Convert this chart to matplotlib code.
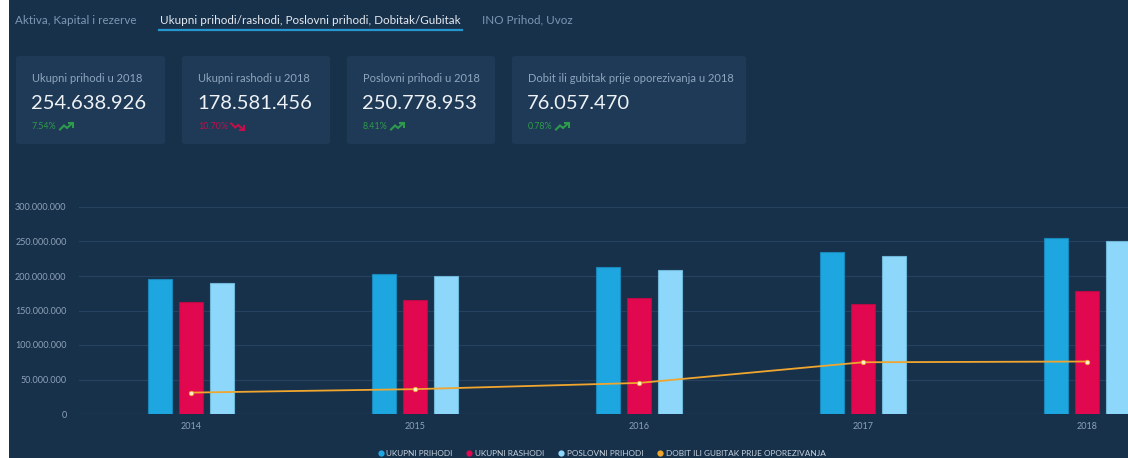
import matplotlib
matplotlib.use("Agg")
import matplotlib.pyplot as plt
import numpy as np
from matplotlib.lines import Line2D
from matplotlib.patches import FancyBboxPatch, Rectangle

# ---- data -------------------------------------------------------------
years = ["2014", "2015", "2016", "2017", "2018"]
ukupni_prihodi = [195_500_000, 203_500_000, 213_500_000, 235_500_000, 254_638_926]
ukupni_rashodi = [162_500_000, 165_500_000, 168_000_000, 160_000_000, 178_581_456]
poslovni_prihodi = [190_500_000, 199_500_000, 209_000_000, 229_500_000, 250_778_953]
dobit_gubitak = [31_000_000, 36_000_000, 45_000_000, 75_000_000, 76_057_470]

series_names = ["UKUPNI PRIHODI", "UKUPNI RASHODI", "POSLOVNI PRIHODI",
                "DOBIT ILI GUBITAK PRIJE OPOREZIVANJA"]

tabs = ["Aktiva, Kapital i rezerve",
        "Ukupni prihodi/rashodi, Poslovni prihodi, Dobitak/Gubitak",
        "INO Prihod, Uvoz"]

card_titles = ["Ukupni prihodi u 2018", "Ukupni rashodi u 2018",
               "Poslovni prihodi u 2018",
               "Dobit ili gubitak prije oporezivanja u 2018"]
card_values = ["254.638.926", "178.581.456", "250.778.953", "76.057.470"]
card_changes = ["7.54%", "10.70%", "8.41%", "0.78%"]
card_up = [True, False, True, True]

# ---- style ------------------------------------------------------------
W, H = 1128, 458
BG = "#18314b"
CARD = "#1f3a56"
C_BLUE = "#1ea6e0"
C_RED = "#e2084f"
C_LIGHT = "#8dd7fb"
C_ORANGE = "#f0a62e"
GREEN = "#2e9a4b"
RED_TXT = "#c10f4c"
GRID = "#25435f"
MUTED = "#7d97b3"
FONT = ["Lato", "DejaVu Sans"]

plt.rcParams["font.family"] = FONT


def fx(x):
    return x / W


def fy(y):
    return 1 - y / H


fig = plt.figure(figsize=(W / 100, H / 100), dpi=100)
fig.patch.set_facecolor("white")

# dark page background (leaves a thin white strip on the left)
fig.patches.append(Rectangle((fx(9), 0), 1, 1, transform=fig.transFigure,
                             facecolor=BG, edgecolor="none", zorder=-10))

# ---- tabs -------------------------------------------------------------
tab_x = [15, 160, 482]
for i, (t, x) in enumerate(zip(tabs, tab_x)):
    fig.text(fx(x), fy(20), t, fontsize=8.4, va="center", ha="left",
             color="#e3eaf1" if i == 1 else MUTED)
fig.add_artist(Line2D([fx(159), fx(462)], [fy(29.5), fy(29.5)],
                      transform=fig.transFigure, color="#2496d0", lw=1.6))

# ---- KPI cards --------------------------------------------------------
cards = [(16, 165), (182, 330), (347, 495), (512, 746)]
for (x0, x1), title, val, chg, up in zip(cards, card_titles, card_values,
                                         card_changes, card_up):
    fig.patches.append(FancyBboxPatch(
        (fx(x0), fy(144)), fx(x1 - x0), (144 - 56) / H,
        boxstyle="round,pad=0,rounding_size=0.004",
        transform=fig.transFigure, facecolor=CARD, edgecolor="none",
        zorder=-5))
    tx = x0 + 16
    fig.text(fx(tx), fy(78), title, fontsize=8.0, color="#8ea6c0",
             va="center", ha="left")
    fig.text(fx(tx - 1), fy(103.5), val, fontsize=14.5, color="#eef2f6",
             va="center", ha="left")
    col = GREEN if up else RED_TXT
    fig.text(fx(tx), fy(126.5), chg, fontsize=6.4, color=col,
             va="center", ha="left")
    # small trend icon after the percentage
    n = len(chg)
    ix = tx + 5.2 * n + 2
    if up:
        xs = [ix, ix + 4, ix + 7, ix + 12]
        ys = [129.5, 125.5, 128, 123.5]
        head = ([ix + 8.5, ix + 12.5, ix + 12.5], [123.2, 123.2, 127])
    else:
        xs = [ix, ix + 4, ix + 7, ix + 12]
        ys = [123.5, 127.5, 125, 129.5]
        head = ([ix + 8.5, ix + 12.5, ix + 12.5], [129.8, 129.8, 126])
    fig.add_artist(Line2D([fx(v) for v in xs], [fy(v) for v in ys],
                          transform=fig.transFigure, color=col, lw=1.5,
                          solid_joinstyle="miter"))
    fig.add_artist(Line2D([fx(v) for v in head[0]], [fy(v) for v in head[1]],
                          transform=fig.transFigure, color=col, lw=1.5,
                          solid_joinstyle="miter"))

# ---- chart ------------------------------------------------------------
ax_left, ax_right = 79, 1199
ax_top, ax_bot = 207, 414
ax = fig.add_axes([fx(ax_left), fy(ax_bot), (ax_right - ax_left) / W,
                   (ax_bot - ax_top) / H])
ax.set_facecolor("none")

x = np.arange(len(years))
bw = 24 / 224
off = 31 / 224
ax.bar(x - off, ukupni_prihodi, bw, color=C_BLUE, edgecolor="#1888bb",
       lw=0.8, label=series_names[0], zorder=2)
ax.bar(x, ukupni_rashodi, bw, color=C_RED, edgecolor="#b80a45",
       lw=0.8, label=series_names[1], zorder=2)
ax.bar(x + off, poslovni_prihodi, bw, color=C_LIGHT, edgecolor="#6fb6d8",
       lw=0.8, label=series_names[2], zorder=2)
ax.plot(x, dobit_gubitak, color=C_ORANGE, lw=1.3, marker="o", ms=3.2,
        mfc="#fff1c9", mec=C_ORANGE, mew=0.6, label=series_names[3],
        zorder=3)

ax.set_xlim(-0.5, len(years) - 0.5)
ax.set_ylim(0, 300_000_000)
yt = np.arange(0, 300_000_001, 50_000_000)
ax.set_yticks(yt)
ax.set_yticklabels([f"{v:,}".replace(",", ".") for v in yt])
ax.set_xticks(x)
ax.set_xticklabels(years)
ax.grid(axis="y", color=GRID, lw=0.8, zorder=0)
ax.set_axisbelow(True)
for s in ax.spines.values():
    s.set_visible(False)
ax.tick_params(axis="y", length=0, pad=9, labelsize=6.5, labelcolor="#8ea2b8")
ax.tick_params(axis="x", length=0, pad=6, labelsize=6.5, labelcolor="#8ea2b8")
ax.axhline(0, color="#2b4a68", lw=0.9, zorder=1)

# ---- legend -----------------------------------------------------------
handles = [Line2D([], [], ls="none", marker="o", ms=4.5, mfc=c, mec="none")
           for c in (C_BLUE, C_RED, C_LIGHT, C_ORANGE)]
leg = fig.legend(handles, series_names, loc="center",
                 bbox_to_anchor=(fx(601), fy(453)), ncol=4, frameon=False,
                 fontsize=5.95, handletextpad=0.2, columnspacing=1.5,
                 handlelength=1.0, borderpad=0)
for t in leg.get_texts():
    t.set_color("#c7d2dd")

fig.savefig("out.png", dpi=100, facecolor=fig.get_facecolor())
